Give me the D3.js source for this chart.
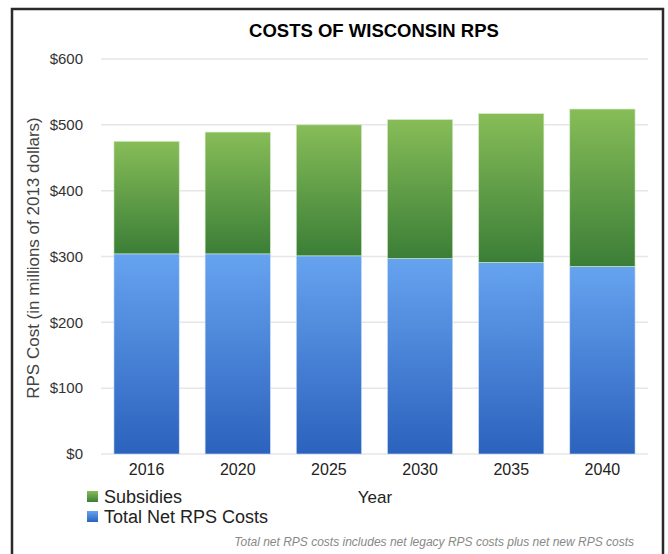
<!DOCTYPE html>
<html>
<head>
<meta charset="utf-8">
<script src="https://cdn.jsdelivr.net/npm/d3@7"></script>
<style>
  body { margin: 0; background: #fff; }
  svg text { font-family: "Liberation Sans", Arial, Helvetica, sans-serif; }
</style>
</head>
<body>
<div id="chart-area"></div>
<script>
// data (millions of 2013 dollars)
var years = ["2016", "2020", "2025", "2030", "2035", "2040"];
var netCosts = [304, 304, 301, 297, 291, 285];
var subsidies = [171, 185, 199, 211, 226, 239];
var yTicks = [0, 100, 200, 300, 400, 500, 600];
var seriesNames = ["Subsidies", "Total Net RPS Costs"];

var W = 668, H = 554;
var margin = {top: 59, right: 20, bottom: 100, left: 101};

var svg = d3.select("#chart-area").append("svg")
    .attr("width", W)
    .attr("height", H);

// gradients for the bars
var defs = svg.append("defs");
function grad(id, top, bottom) {
    var g = defs.append("linearGradient").attr("id", id)
        .attr("x1", 0).attr("y1", 0).attr("x2", 0).attr("y2", 1);
    g.append("stop").attr("offset", "0%").attr("stop-color", top);
    g.append("stop").attr("offset", "100%").attr("stop-color", bottom);
}
grad("gGreen", "#87bd58", "#3b7e37");
grad("gBlue", "#66a3ef", "#2b62bd");

// frame
svg.append("path")
    .attr("d", "M12,554 V9 H663 V554")
    .attr("fill", "none")
    .attr("stroke", "#2a2a2a")
    .attr("stroke-width", 2.5);

var x = d3.scaleBand()
    .domain(years)
    .range([margin.left, 648])
    .paddingInner(0.284)
    .paddingOuter(0.142);

var y = d3.scaleLinear()
    .domain([0, 600])
    .range([454, margin.top]);

// gridlines
svg.append("g").selectAll("line")
    .data(yTicks)
    .enter().append("line")
    .attr("x1", margin.left).attr("x2", 648)
    .attr("y1", function (d) { return y(d); })
    .attr("y2", function (d) { return y(d); })
    .attr("stroke", "#e6e6e6")
    .attr("stroke-width", 1.5);

// y axis
var yAxis = d3.axisLeft(y)
    .tickValues(yTicks)
    .tickSize(0)
    .tickPadding(18)
    .tickFormat(function (d) { return "$" + d; });

var yG = svg.append("g")
    .attr("transform", "translate(" + margin.left + ",0)")
    .call(yAxis);
yG.select(".domain").remove();
yG.selectAll("text").attr("font-size", 15).attr("fill", "#333");

// x axis
var xAxis = d3.axisBottom(x).tickSize(0).tickPadding(10);
var xG = svg.append("g")
    .attr("transform", "translate(0," + y(0) + ")")
    .call(xAxis);
xG.select(".domain").remove();
xG.selectAll("text").attr("font-size", 16).attr("fill", "#222");

// stacked bars
var data = years.map(function (yr, i) {
    return {year: yr, net: netCosts[i], sub: subsidies[i]};
});

svg.append("g").selectAll("rect")
    .data(data)
    .enter().append("rect")
    .attr("x", function (d) { return x(d.year); })
    .attr("width", x.bandwidth())
    .attr("y", function (d) { return y(d.net); })
    .attr("height", function (d) { return y(0) - y(d.net); })
    .attr("fill", "url(#gBlue)")
    .attr("stroke", "#cfe0f7")
    .attr("stroke-width", 0.6);

svg.append("g").selectAll("rect")
    .data(data)
    .enter().append("rect")
    .attr("x", function (d) { return x(d.year); })
    .attr("width", x.bandwidth())
    .attr("y", function (d) { return y(d.net + d.sub); })
    .attr("height", function (d) { return y(d.net) - y(d.net + d.sub); })
    .attr("fill", "url(#gGreen)")
    .attr("stroke", "#d6ecc6")
    .attr("stroke-width", 0.6);

// title
svg.append("text")
    .attr("x", 374).attr("y", 37)
    .attr("text-anchor", "middle")
    .attr("font-size", 18.5)
    .attr("font-weight", "bold")
    .attr("fill", "#000")
    .text("COSTS OF WISCONSIN RPS");

// y label
svg.append("text")
    .attr("transform", "translate(39,258) rotate(-90)")
    .attr("text-anchor", "middle")
    .attr("font-size", 17)
    .attr("fill", "#444")
    .text("RPS Cost (in millions of 2013 dollars)");

// x label
svg.append("text")
    .attr("x", 375).attr("y", 503)
    .attr("text-anchor", "middle")
    .attr("font-size", 17)
    .attr("fill", "#222")
    .text("Year");

// legend
var legColors = ["url(#gGreen)", "url(#gBlue)"];
var leg = svg.append("g").selectAll("g")
    .data(seriesNames)
    .enter().append("g")
    .attr("transform", function (d, i) { return "translate(87," + (491 + i * 20) + ")"; });
leg.append("rect")
    .attr("width", 11).attr("height", 11)
    .attr("fill", function (d, i) { return legColors[i]; });
leg.append("text")
    .attr("x", 17).attr("y", 12)
    .attr("font-size", 18)
    .attr("fill", "#222")
    .text(function (d) { return d; });

// footnote
svg.append("text")
    .attr("x", 634).attr("y", 546)
    .attr("text-anchor", "end")
    .attr("font-size", 12)
    .attr("font-style", "italic")
    .attr("fill", "#888")
    .text("Total net RPS costs includes net legacy RPS costs plus net new RPS costs");
</script>
</body>
</html>
